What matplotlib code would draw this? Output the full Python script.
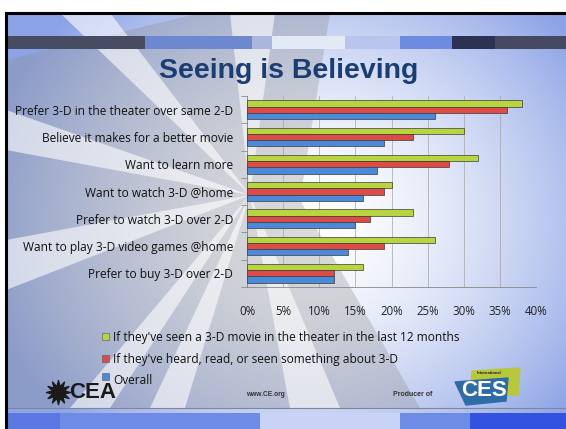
import numpy as np
import matplotlib
matplotlib.use("Agg")
import matplotlib.pyplot as plt
from matplotlib.patches import Rectangle, Polygon

# ---- data ----
categories = [
    "Prefer 3-D in the theater over same 2-D",
    "Believe it makes for a better movie",
    "Want to learn more",
    "Want to watch 3-D @home",
    "Prefer to watch 3-D over 2-D",
    "Want to play 3-D video games @home",
    "Prefer to buy 3-D over 2-D",
]
seen_movie = [38, 30, 32, 20, 23, 26, 16]
heard_about = [36, 23, 28, 19, 17, 19, 12]
overall = [26, 19, 18, 16, 15, 14, 12]
series_labels = [
    "If they've seen a 3-D movie in the theater in the last 12 months",
    "If they've heard, read, or seen something about 3-D",
    "Overall",
]
x_ticks = [0, 5, 10, 15, 20, 25, 30, 35, 40]

green, red, blue = "#B6D53F", "#DD4B47", "#4A8AD8"
W, H = 566, 429
font = ["Open Sans", "DejaVu Sans"]

fig = plt.figure(figsize=(W / 100, H / 100), dpi=100)

# ---- slide background (pixel coordinates) ----
bg = fig.add_axes([0, 0, 1, 1])
bg.set_xlim(0, W)
bg.set_ylim(H, 0)
bg.axis("off")
yy, xx = np.mgrid[0:H, 0:W]
r = np.sqrt(((xx - 310) / 330.0) ** 2 + ((yy - 220) / 300.0) ** 2)
t = np.clip(r, 0, 1)[..., None]
edge = np.array([0.55, 0.64, 0.90])
center = np.array([1.0, 1.0, 1.0])
img = center * (1 - t ** 1.6) + edge * t ** 1.6
bg.imshow(img, extent=(0, W, H, 0), zorder=0)

# gray starburst behind the labels, with white rays
bg.add_patch(Polygon([(6, 60), (200, 13), (330, 13), (300, 200), (420, 408), (6, 408)],
                     closed=True, color="#8E8E8E", alpha=0.32, lw=0, zorder=1))
rays = [
    [(250, 195), (60, 13), (110, 13)],
    [(250, 195), (6, 110), (6, 150)],
    [(250, 195), (6, 240), (6, 290)],
    [(250, 195), (70, 408), (110, 408)],
    [(250, 195), (150, 408), (185, 408)],
    [(250, 195), (290, 408), (340, 408)],
    [(250, 195), (230, 13), (275, 13)],
]
for pts in rays:
    bg.add_patch(Polygon(pts, closed=True, color="white", alpha=0.6, lw=0, zorder=1))

# white frame and black border
bg.add_patch(Rectangle((0, 0), W, 13, color="white", zorder=2))
bg.add_patch(Rectangle((0, 0), 6, H, color="white", zorder=2))
bg.plot([6, W], [13, 13], color="black", lw=2.2, zorder=3)
bg.plot([6, 6], [13, H], color="black", lw=2.2, zorder=3)

# decorative stripe at top
stripe = [(6, 145, "#474C63"), (145, 252, "#6E88CF"), (252, 272, "#A9B6DE"),
          (272, 345, "#E4E9F6"), (345, 400, "#BAC5EE"), (400, 452, "#6D8CE0"),
          (452, 495, "#2C3252"), (495, W, "#454A62")]
for x0, x1, c in stripe:
    bg.add_patch(Rectangle((x0, 36), x1 - x0, 13, color=c, lw=0, zorder=2))

# bottom line and band
bg.plot([6, W], [408, 408], color="#7F8699", lw=0.8, zorder=2)
band = [(6, 60, "#5A78E0"), (60, 260, "#6F8BE8"), (260, 400, "#C9D3F5"),
        (400, 470, "#6D8CE6"), (470, W, "#3452E0")]
for x0, x1, c in band:
    bg.add_patch(Rectangle((x0, 413), x1 - x0, H - 413, color=c, lw=0, zorder=2))

bg.text(289, 71, "Seeing is Believing", ha="center", va="center",
        fontsize=20.5, fontweight="bold", color="#1B3E72", family="Liberation Sans", zorder=4)

# ---- bar chart ----
ax = fig.add_axes([247 / W, 1 - 287 / H, 289 / W, 191 / H])
ax.patch.set_alpha(0)
n = len(categories)
y = np.arange(n)
h = 0.23
for vals, off, c in [(seen_movie, -h, green), (heard_about, 0, red), (overall, h, blue)]:
    ax.barh(y + off, vals, height=h, color=c, edgecolor="#3A3A3A", linewidth=0.5, zorder=3)

ax.set_ylim(n - 0.5, -0.5)
ax.set_xlim(0, 40)
ax.set_xticks(x_ticks)
ax.set_xticklabels([f"{v}%" for v in x_ticks], family=font, fontsize=8.3, color="#222222")
ax.set_yticks(y)
ax.set_yticklabels(categories, family=font, fontsize=8.6, color="#111111")
ax.set_yticks(np.arange(n + 1) - 0.5, minor=True)
ax.tick_params(axis="y", which="major", length=0, pad=10)
ax.tick_params(axis="y", which="minor", length=4, color="#888888")
ax.tick_params(axis="x", length=0, pad=13)
ax.grid(axis="x", color="#A5A5A5", lw=0.5, zorder=0)
for s in ["top", "right"]:
    ax.spines[s].set_visible(False)
ax.spines["left"].set_color("#888888")
ax.spines["bottom"].set_color("#888888")
ax.spines["left"].set_linewidth(0.6)
ax.spines["bottom"].set_linewidth(0.6)

# legend rows
for i, (lab, c) in enumerate(zip(series_labels, [green, red, blue])):
    yp = 337 + i * 22
    bg.add_patch(Rectangle((102, yp - 4 - (4 if i == 2 else 0)), 7, 7, facecolor=c,
                           edgecolor="#555555", lw=0.4, zorder=4))
    bg.text(113, yp, lab, ha="left", va="center", fontsize=8.6,
            family=font, color="#111111", zorder=4)

# logos
bg.text(69, 392, "CEA", ha="left", va="center", fontsize=16, fontweight="bold",
        family="Liberation Sans", color="#1A1A1A", zorder=4)
bg.scatter([58], [392], s=300, marker=(12, 1, 0), color="#1A1A1A", zorder=4)
bg.text(246, 395, "www.CE.org", ha="left", va="center", fontsize=4.8, fontweight="bold",
        family="Liberation Sans", color="#333333", zorder=4)
bg.text(393, 394, "Producer of", ha="left", va="center", fontsize=5, fontweight="bold",
        family="Liberation Sans", color="#333333", zorder=4)
bg.add_patch(Polygon([(472, 371), (520, 368), (518, 395), (470, 397)], closed=True,
                     color="#B8C83A", zorder=4))
bg.add_patch(Polygon([(455, 382), (508, 378), (506, 401), (466, 405)], closed=True,
                     color="#2E6CA8", zorder=5))
bg.text(484, 390, "CES", ha="center", va="center", fontsize=16, fontweight="bold",
        family="Liberation Sans", color="white", zorder=6)
bg.text(489, 373, "International", ha="center", va="center", fontsize=3, fontweight="bold",
        family="Liberation Sans", color="#1A1A1A", zorder=6)

fig.savefig("out.png", dpi=100)
